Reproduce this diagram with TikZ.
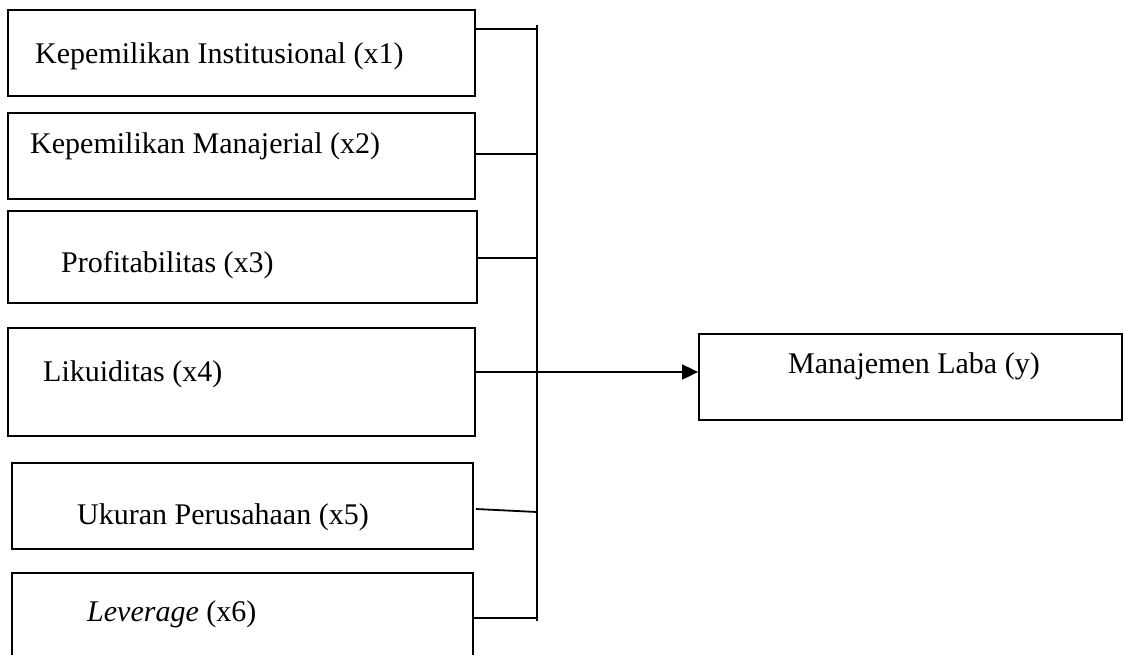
\documentclass[tikz,border=0pt]{standalone}
\usepackage{fontspec}
\setmainfont{Liberation Serif}
\usetikzlibrary{arrows.meta}

\tikzset{
  varbox/.style={draw, line width=1.8pt, inner sep=0pt, minimum height=86pt},
  vartext/.style={anchor=base west, inner sep=0pt, font=\fontsize{30}{35}\selectfont},
  link/.style={line width=1.8pt},
}

\begin{document}
\begin{tikzpicture}[x=1pt,y=-1pt,>=Triangle]
            \useasboundingbox (0,0) rectangle (1125,654);
            \clip (0,0) rectangle (1125,654);

            % the independent variables
            \node[varbox, minimum width=467pt] (b1) at (241.5,53) {};
            \node[varbox, minimum width=467pt] (b2) at (241.5,156) {};
            \node[varbox, minimum width=469pt, minimum height=92pt] (b3) at (242.5,257) {};
            \node[varbox, minimum width=467pt, minimum height=108pt] (b4) at (241.5,382) {};
            \node[varbox, minimum width=461pt] (b5) at (242.5,506) {};
            \node[varbox, minimum width=461pt, minimum height=107pt] (b6) at (242.5,626.5) {};

            % the dependent variable
            \node[varbox, minimum width=423pt] (y) at (910.5,377) {};

            % texts in the boxes
            \node[vartext] (t1) at (35,63) {Kepemilikan Institusional (x1)};
            \node[vartext] (t2) at (30,153) {Kepemilikan Manajerial (x2)};
            \node[vartext] (t3) at (61,272) {Profitabilitas (x3)};
            \node[vartext] (t4) at (43,381) {Likuiditas (x4)};
            \node[vartext] (t5) at (77,524) {Ukuran Perusahaan (x5)};
            \node[vartext] (t6) at (87,621) {\textit{Leverage} (x6)};
            \node[vartext] (ty) at (788,373) {Manajemen Laba (y)};

            % the bus
            \coordinate (bustop) at (537,25);
            \coordinate (busbot) at (537,621);
            \draw[link] (bustop) -- (busbot);

            % the joints on the bus
            \coordinate (j1) at (537,29);
            \coordinate (j2) at (537,154);
            \coordinate (j3) at (537,258);
            \coordinate (j4) at (537,372);
            \coordinate (j5) at (537,512);
            \coordinate (j6) at (537,618);
            \coordinate (s5) at (476,509);

            \draw[link] (b1.east |- j1) -- (j1);
            \draw[link] (b2.east |- j2) -- (j2);
            \draw[link] (b3.east |- j3) -- (j3);
            \draw[link] (s5) -- (j5);
            \draw[link] (b6.east |- j6) -- (j6);

            % arrow to y
            \draw[link, -{Triangle[length=16pt,width=15pt]}] (b4.east |- j4) -- (y.west |- j4);
        \end{tikzpicture}
\end{document}
